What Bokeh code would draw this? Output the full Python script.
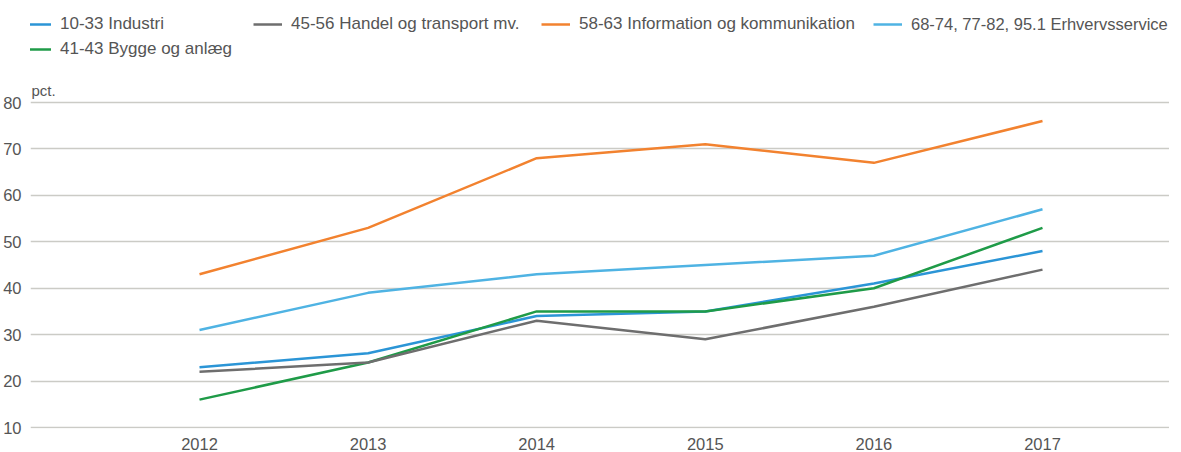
from bokeh.plotting import figure
from bokeh.models import Range1d, FixedTicker, Legend, LegendItem, Label
from bokeh.embed import file_html
from bokeh.resources import INLINE

years = [2012, 2013, 2014, 2015, 2016, 2017]
industri = [23, 26, 34, 35, 41, 48]
bygge = [16, 24, 35, 35, 40, 53]
handel = [22, 24, 33, 29, 36, 44]
info = [43, 53, 68, 71, 67, 76]
erhverv = [31, 39, 43, 45, 47, 57]

names = ["10-33 Industri", "41-43 Bygge og anlæg", "45-56 Handel og transport mv.",
         "58-63 Information og kommunikation", "68-74, 77-82, 95.1 Erhvervsservice"]
colors = ["#2b95d6", "#1f9b48", "#6e6e6e", "#f2822f", "#4fb3e3"]
series = [industri, bygge, handel, info, erhverv]
y_ticks = [10, 20, 30, 40, 50, 60, 70, 80]

FONT = "Liberation Sans"
TXT = "#555555"

frame_h = 428
px_per_unit = (427 - 102) / 70
y0 = 10 - 1 / px_per_unit
y1 = y0 + frame_h / px_per_unit

frame_w = 1139
px_per_year = 168.6
x0 = 2012 - 169 / px_per_year
x1 = x0 + frame_w / px_per_year

p = figure(frame_width=frame_w, frame_height=frame_h, output_backend="svg",
           toolbar_location=None, x_range=Range1d(x0, x1), y_range=Range1d(y0, y1),
           min_border_left=26, min_border_right=0, min_border_top=0, min_border_bottom=0)
p.outline_line_color = None
p.background_fill_color = "white"
p.border_fill_color = "white"

p.xgrid.grid_line_color = None
p.ygrid.ticker = FixedTicker(ticks=y_ticks)
p.ygrid.grid_line_color = "#cbcbc6"
p.ygrid.grid_line_width = 1.5

p.yaxis.ticker = FixedTicker(ticks=y_ticks)
p.xaxis.ticker = FixedTicker(ticks=years)
for ax in (p.xaxis, p.yaxis):
    ax.axis_line_color = None
    ax.major_tick_line_color = None
    ax.minor_tick_line_color = None
    ax.major_label_text_font = FONT
    ax.major_label_text_font_size = "16.5px"
    ax.major_label_text_color = TXT
p.yaxis.major_label_standoff = 3
p.xaxis.major_label_standoff = 3

renderers = []
for ys, c in zip(series, colors):
    r = p.line(years, ys, line_color=c, line_width=2.5)
    renderers.append(r)

# legend positions (screen px relative to frame bottom-left)
leg_pos = [(-8, 394), (-8, 369), (223, 394), (511, 394), (843, 394)]
leg_sizes = ["17px", "17px", "17px", "17px", "16.5px"]
for name, r, pos, fs in zip(names, renderers, leg_pos, leg_sizes):
    lg = Legend(items=[LegendItem(label=name, renderers=[r])], location=pos,
                padding=0, margin=0, border_line_color=None, background_fill_alpha=0,
                glyph_width=29, glyph_height=20, label_height=20, label_standoff=9,
                label_text_font=FONT, label_text_font_size=fs, label_text_color=TXT)
    p.add_layout(lg, "center")

p.add_layout(Label(x=x0 + 1 / px_per_year, y=y0 + (frame_h - 90) / px_per_unit, text="pct.",
                   text_font=FONT, text_font_size="15px", text_color=TXT,
                   text_baseline="middle", text_align="left"))

open("out.html", "w").write(file_html(p, INLINE))
